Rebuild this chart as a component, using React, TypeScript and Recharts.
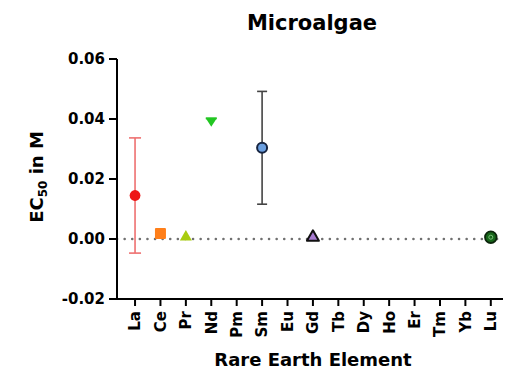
import React from 'react';
import { ComposedChart, Scatter, XAxis, YAxis, ReferenceLine, ErrorBar, Label } from 'recharts';

const elements = ['La', 'Ce', 'Pr', 'Nd', 'Pm', 'Sm', 'Eu', 'Gd', 'Tb', 'Dy', 'Ho', 'Er', 'Tm', 'Yb', 'Lu'];
const ec50Values: (number | null)[] = [0.0145, 0.0018, 0.001, 0.0389, null, 0.0304, null, 0.0009, null, null, null, null, null, null, 0.0006];
const ec50Errors: (number | null)[] = [0.0192, null, null, null, null, 0.0188, null, null, null, null, null, null, null, null, null];
const yTicks = [-0.02, 0, 0.02, 0.04, 0.06];
const xTicks = elements.map((_, i) => i);

const FONT = 'DejaVu Sans';

type MarkerStyle = { kind: string; fill: string; stroke?: string; err?: string; capW?: number };
const markerStyles: Record<string, MarkerStyle> = {
  La: { kind: 'circle', fill: '#ee1515', err: '#ee7070', capW: 6 },
  Ce: { kind: 'square', fill: '#ff7f1a' },
  Pr: { kind: 'triangle', fill: '#a8cc10' },
  Nd: { kind: 'triangleDown', fill: '#22c622' },
  Sm: { kind: 'circle', fill: '#6a9fe0', stroke: '#15233f', err: '#444444', capW: 5 },
  Gd: { kind: 'triangle', fill: '#a77bd0', stroke: '#111111' },
  Lu: { kind: 'ring', fill: '#17661a', stroke: '#0b250b' },
};

const makeShape = (st: MarkerStyle) => (props: any) => {
  const { cx, cy } = props;
  if (cx == null || cy == null) return <g />;
  switch (st.kind) {
    case 'circle':
      return <circle cx={cx} cy={cy} r={st.stroke ? 5 : 5.4} fill={st.fill} stroke={st.stroke ?? 'none'} strokeWidth={st.stroke ? 2 : 0} />;
    case 'square':
      return <rect x={cx - 5.5} y={cy - 5.5} width={11} height={11} rx={1} fill={st.fill} />;
    case 'triangle':
      return (
        <polygon
          points={`${cx},${cy - 6} ${cx + 6},${cy + 4.5} ${cx - 6},${cy + 4.5}`}
          fill={st.fill}
          stroke={st.stroke ?? 'none'}
          strokeWidth={st.stroke ? 2 : 0}
          strokeLinejoin="round"
        />
      );
    case 'triangleDown':
      return (
        <g>
          <polygon points={`${cx - 5.5},${cy - 4} ${cx + 5.5},${cy - 4} ${cx},${cy + 4.5}`} fill={st.fill} />
          <rect x={cx - 5.5} y={cy - 5} width={11} height={2} fill={st.fill} />
        </g>
      );
    case 'ring':
      return (
        <g>
          <circle cx={cx} cy={cy} r={5.8} fill={st.fill} stroke={st.stroke} strokeWidth={1.8} />
          <circle cx={cx} cy={cy} r={2} fill="none" stroke="#7cc27c" strokeWidth={1} />
        </g>
      );
    default:
      return <g />;
  }
};

const XTick = (props: any) => {
  const { x, y, payload } = props;
  return (
    <text
      x={x}
      y={y}
      dy="0.36em"
      transform={`rotate(-90, ${x}, ${y})`}
      textAnchor="end"
      fontSize={15}
      fontWeight="bold"
      fill="#000"
      fontFamily={FONT}
    >
      {elements[payload.value]}
    </text>
  );
};

const Titles = () => (
  <g fontFamily={FONT} fontWeight="bold" fill="#000">
    <text x={312} y={30} textAnchor="middle" fontSize={21}>
      Microalgae
    </text>
    <text x={313} y={366} textAnchor="middle" fontSize={18}>
      Rare Earth Element
    </text>
  </g>
);

const YTitle = () => (
  <text
    x={43}
    y={177}
    transform="rotate(-90, 43, 177)"
    textAnchor="middle"
    fontFamily={FONT}
    fontWeight="bold"
    fontSize={18}
    fill="#000"
  >
    <tspan>EC</tspan>
    <tspan fontSize={12} dy={4}>50</tspan>
    <tspan dy={-4}> in M</tspan>
  </text>
);

export default function App() {
  const series = elements
    .map((el, i) => ({ el, i, v: ec50Values[i], e: ec50Errors[i] }))
    .filter((d) => d.v != null);

  return (
    <div style={{ position: 'absolute', left: 0, top: 0, width: 506, height: 369, background: '#fff' }}>
      <ComposedChart width={506} height={369} margin={{ top: 59, right: 3, bottom: 40, left: 0 }}>
        <XAxis
          dataKey="x"
          type="number"
          domain={[-0.71, 14.48]}
          ticks={xTicks}
          interval={0}
          height={30}
          allowDataOverflow
          tick={<XTick />}
          tickSize={7}
          tickMargin={5}
          axisLine={{ stroke: '#000', strokeWidth: 2 }}
          tickLine={{ stroke: '#000', strokeWidth: 2 }}
        >
          <Label content={<Titles />} />
        </XAxis>
        <YAxis
          type="number"
          domain={[-0.02, 0.06]}
          ticks={yTicks}
          interval={0}
          width={117}
          tickSize={8}
          tickMargin={4}
          tickFormatter={(v: number) => v.toFixed(2)}
          tick={{ fontSize: 15, fontWeight: 'bold', fill: '#000', fontFamily: FONT }}
          axisLine={{ stroke: '#000', strokeWidth: 2 }}
          tickLine={{ stroke: '#000', strokeWidth: 2 }}
        >
          <Label content={<YTitle />} />
        </YAxis>
        <ReferenceLine y={0} stroke="#707070" strokeWidth={2.5} strokeDasharray="0.1 7.5" strokeLinecap="round" />
        {series.map((d) => {
          const st = markerStyles[d.el];
          return (
            <Scatter
              key={d.el}
              name={d.el}
              data={[{ x: d.i, y: d.v, err: d.e }]}
              dataKey="y"
              isAnimationActive={false}
              shape={makeShape(st)}
            >
              {d.e != null && (
                <ErrorBar dataKey="err" direction="y" width={st.capW ?? 5} stroke={st.err ?? '#000'} strokeWidth={1.6} />
              )}
            </Scatter>
          );
        })}
      </ComposedChart>
    </div>
  );
}
